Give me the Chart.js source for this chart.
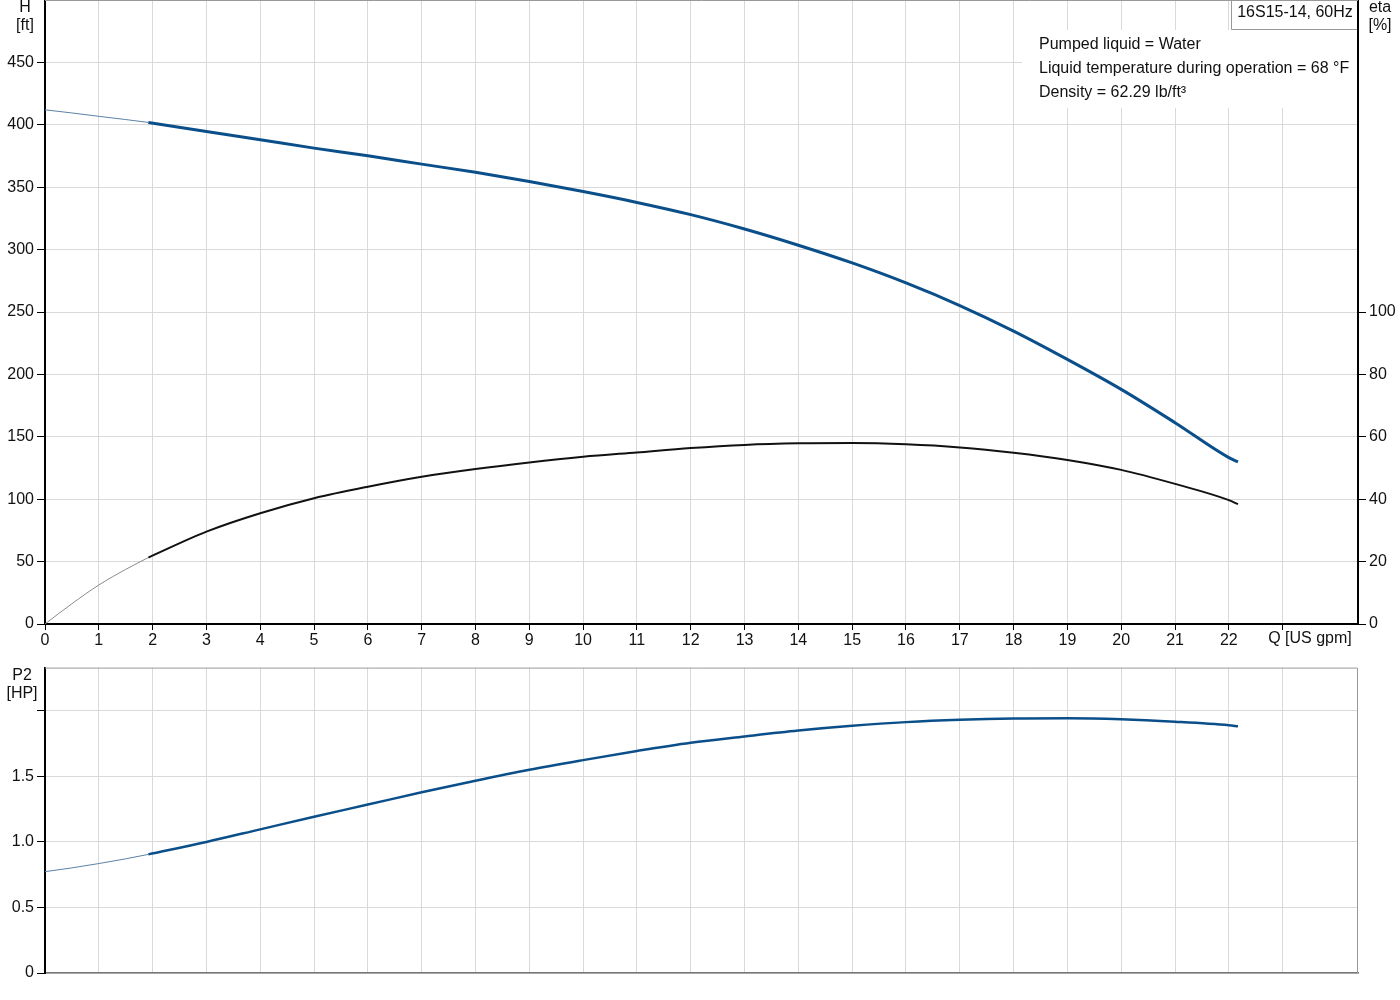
<!DOCTYPE html>
<html>
<head>
<meta charset="utf-8">
<script src="https://cdn.jsdelivr.net/npm/chart.js@4.4.0/dist/chart.umd.min.js"></script>
<style>
  html, body { margin: 0; padding: 0; background: #fff; }
  #wrap { position: relative; width: 1400px; height: 1000px; overflow: hidden; }
  canvas { position: absolute; left: 0; }
  #top { top: -20px; }
  #bot { top: 655px; }
</style>
</head>
<body>
<div id="wrap">
  <canvas id="top" width="1400" height="675"></canvas>
  <canvas id="bot" width="1400" height="345"></canvas>
</div>
<script>
// thin part of the curves (outside the recommended range)
const qThin = [0, 0.5, 1, 1.5, 1.92];
const headThin = [412, 409.5, 406.8, 404.2, 401.9];
const etaThin = [0, 6.5, 12.5, 17.5, 21.3];
const p2Thin = [0.773, 0.802, 0.835, 0.871, 0.905];

// main part of the curves
const qFlow = [1.92, 3, 4, 5, 6, 7, 8, 9, 10, 11, 12, 13, 14, 15, 16, 17, 18, 19, 20, 21, 22, 22.17];
const head = [401.9, 394.7, 388, 381.3, 375.2, 368.5, 361.9, 354.5, 346.5, 337.8, 328, 316.5, 303.5, 289.3, 273.3, 255.2, 234.7, 212, 188, 161.3, 133.3, 129.9];
const eta = [21.3, 29.6, 35.5, 40.3, 44.0, 47.2, 49.7, 51.8, 53.6, 55.0, 56.4, 57.4, 57.9, 58.0, 57.6, 56.6, 54.9, 52.6, 49.4, 44.9, 39.7, 38.4];
const p2 = [0.905, 1.0, 1.096, 1.192, 1.285, 1.379, 1.467, 1.55, 1.624, 1.694, 1.757, 1.805, 1.85, 1.886, 1.914, 1.932, 1.942, 1.944, 1.936, 1.917, 1.89, 1.882];

const infoLines = ['Pumped liquid = Water', 'Liquid temperature during operation = 68 °F', 'Density = 62.29 lb/ft³'];
const pumpLabel = '16S15-14, 60Hz';

const blue = '#0b4f8a';
const gridGray = '#d9d9d9';
const fontFamily = '"Liberation Sans", Arial, sans-serif';
const tickFont = { family: fontFamily, size: 16 };

const pts = (xs, ys) => xs.map((x, i) => ({ x: x, y: ys[i] }));

function drawText(ctx, text, x, y, align) {
  ctx.textAlign = align || 'center';
  ctx.textBaseline = 'middle';
  ctx.fillText(text, x, y);
}

// top chart: frame line, info box and axis titles
const topDecor = {
  id: 'topDecor',
  beforeDatasetsDraw(chart) {
    const { ctx, chartArea: a } = chart;
    ctx.save();
    ctx.strokeStyle = '#999';
    ctx.lineWidth = 1;
    ctx.beginPath();
    ctx.moveTo(a.left, a.top + 0.5);
    ctx.lineTo(a.right, a.top + 0.5);
    ctx.stroke();
    // white area behind the info text
    ctx.fillStyle = '#fff';
    ctx.fillRect(1022, a.top + 30, a.right - 1 - 1022, 78);
    ctx.fillRect(1231, a.top + 1, a.right - 1 - 1231, 29);
    ctx.strokeStyle = '#999';
    ctx.beginPath();
    ctx.moveTo(1231.5, a.top);
    ctx.lineTo(1231.5, a.top + 29.5);
    ctx.lineTo(a.right - 1, a.top + 29.5);
    ctx.stroke();
    ctx.fillStyle = '#111';
    ctx.font = '16px ' + fontFamily;
    drawText(ctx, pumpLabel, 1295, a.top + 13);
    infoLines.forEach((t, i) => drawText(ctx, t, 1039, a.top + 45 + i * 24, 'left'));
    ctx.restore();
  },
  afterDraw(chart) {
    const { ctx, chartArea: a } = chart;
    ctx.save();
    ctx.fillStyle = '#111';
    ctx.font = '16px ' + fontFamily;
    drawText(ctx, 'H', 25, a.top + 8);
    drawText(ctx, '[ft]', 25, a.top + 26);
    drawText(ctx, 'eta', 1380, a.top + 8);
    drawText(ctx, '[%]', 1380, a.top + 26);
    drawText(ctx, 'Q [US gpm]', 1310, a.bottom + 15);
    ctx.restore();
  }
};

const botDecor = {
  id: 'botDecor',
  beforeDatasetsDraw(chart) {
    const { ctx, chartArea: a } = chart;
    ctx.save();
    ctx.strokeStyle = '#999';
    ctx.lineWidth = 1;
    ctx.beginPath();
    ctx.moveTo(a.left, a.top + 0.5);
    ctx.lineTo(a.right - 0.5, a.top + 0.5);
    ctx.lineTo(a.right - 0.5, a.bottom);
    ctx.stroke();
    ctx.restore();
  },
  afterDraw(chart) {
    const { ctx, chartArea: a } = chart;
    ctx.save();
    ctx.fillStyle = '#111';
    ctx.font = '16px ' + fontFamily;
    drawText(ctx, 'P2', 22, a.top + 8);
    drawText(ctx, '[HP]', 22, a.top + 26);
    ctx.restore();
  }
};

const common = {
  responsive: false,
  animation: false,
  devicePixelRatio: 1,
  elements: {
    point: { radius: 0 },
    line: { cubicInterpolationMode: 'monotone', fill: false }
  },
  plugins: { legend: { display: false }, tooltip: { enabled: false } }
};

const xIntTicks = (s) => { s.ticks = s.ticks.filter(t => Number.isInteger(t.value)); };

new Chart(document.getElementById('top'), {
  type: 'line',
  data: {
    datasets: [
      { data: pts(qThin, etaThin), yAxisID: 'y1', borderColor: '#8a8a8a', borderWidth: 1 },
      { data: pts(qFlow, eta), yAxisID: 'y1', borderColor: '#111', borderWidth: 2 },
      { data: pts(qThin, headThin), yAxisID: 'y', borderColor: '#5b82a8', borderWidth: 1 },
      { data: pts(qFlow, head), yAxisID: 'y', borderColor: blue, borderWidth: 3 }
    ]
  },
  options: Object.assign({}, common, {
    layout: { padding: { top: 20, left: 0, right: 0, bottom: 0 } },
    scales: {
      x: {
        type: 'linear', min: 0, max: 24.4,
        afterBuildTicks: xIntTicks,
        afterFit: (s) => { s.height = 31; },
        border: { color: '#000', width: 2 },
        grid: { color: gridGray, tickColor: '#000', tickLength: 6 },
        ticks: {
          stepSize: 1, autoSkip: false, maxRotation: 0, padding: 1,
          color: '#111', font: tickFont,
          callback: (v) => (v <= 22 ? String(v) : '')
        }
      },
      y: {
        position: 'left', min: 0, max: 500,
        afterBuildTicks: (s) => { s.ticks = s.ticks.filter(t => t.value < 500); },
        afterFit: (s) => { s.width = 45; },
        border: { color: '#000', width: 2 },
        grid: { color: gridGray, tickColor: '#000', tickLength: 8 },
        ticks: { stepSize: 50, padding: 3, color: '#111', font: tickFont }
      },
      y1: {
        position: 'right', min: 0, max: 200,
        afterBuildTicks: (s) => { s.ticks = s.ticks.filter(t => t.value <= 100); },
        afterFit: (s) => { s.width = 42; },
        border: { color: '#000', width: 2 },
        grid: { drawOnChartArea: false, tickColor: '#000', tickLength: 8 },
        ticks: { stepSize: 20, padding: 3, color: '#111', font: tickFont }
      }
    }
  }),
  plugins: [topDecor]
});

new Chart(document.getElementById('bot'), {
  type: 'line',
  data: {
    datasets: [
      { data: pts(qThin, p2Thin), borderColor: '#5b82a8', borderWidth: 1 },
      { data: pts(qFlow, p2), borderColor: blue, borderWidth: 2.5 }
    ]
  },
  options: Object.assign({}, common, {
    layout: { padding: { top: 10, left: 0, right: 42, bottom: 0 } },
    scales: {
      x: {
        type: 'linear', min: 0, max: 24.4,
        afterBuildTicks: xIntTicks,
        afterFit: (s) => { s.height = 27; },
        border: { color: '#777', width: 1.5 },
        grid: { color: gridGray, tickLength: 0 },
        ticks: { stepSize: 1, display: false }
      },
      y: {
        position: 'left', min: 0, max: 2.33,
        afterBuildTicks: (s) => { s.ticks = s.ticks.filter(t => t.value <= 2.0001); },
        afterFit: (s) => { s.width = 45; },
        border: { color: '#000', width: 2 },
        grid: { color: gridGray, tickColor: '#000', tickLength: 8 },
        ticks: {
          stepSize: 0.5, padding: 3, color: '#111', font: tickFont,
          callback: (v) => (v === 0 ? '0' : v >= 2 ? '' : v.toFixed(1))
        }
      }
    }
  }),
  plugins: [botDecor]
});
</script>
</body>
</html>
